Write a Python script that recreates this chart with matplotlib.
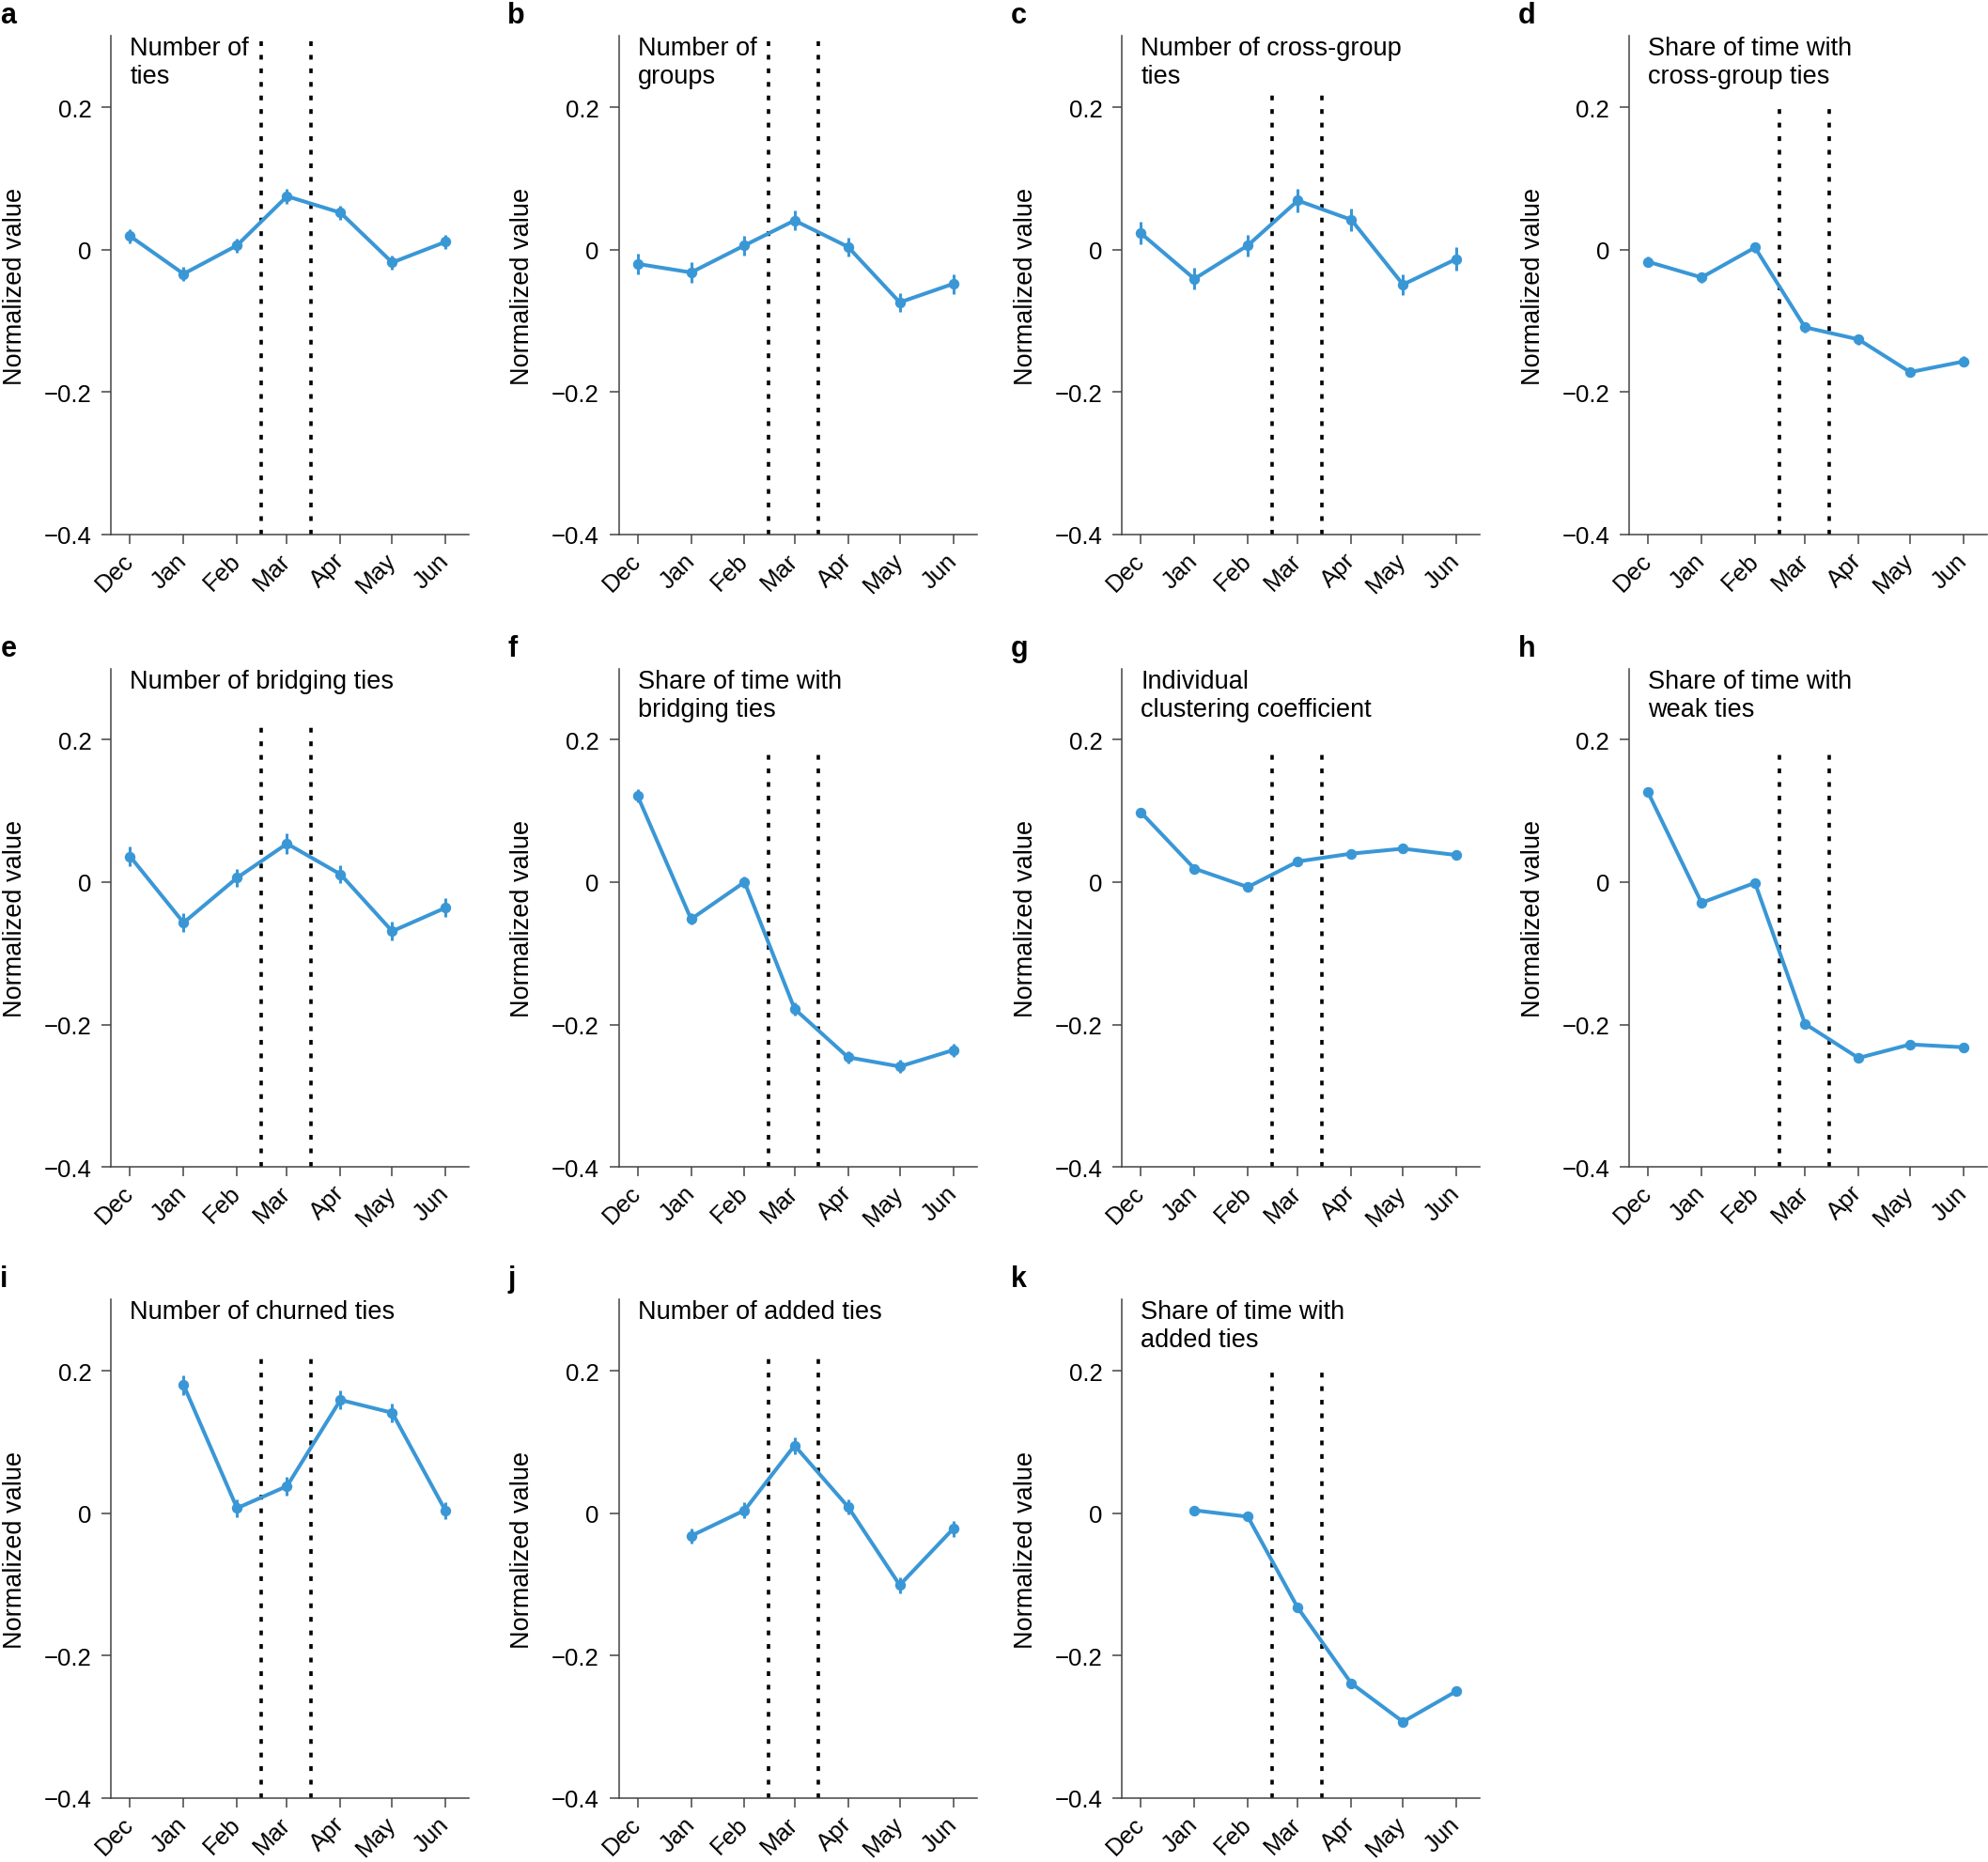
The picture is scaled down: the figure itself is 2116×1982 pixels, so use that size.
import numpy as np
import matplotlib.pyplot as plt
from matplotlib.transforms import ScaledTranslation

plt.rcParams['font.family'] = ['Liberation Sans', 'DejaVu Sans']

BLUE = '#3a97d6'

months = ['Dec', 'Jan', 'Feb', 'Mar', 'Apr', 'May', 'Jun']
month_starts = ['2019-12-01', '2020-01-01', '2020-02-01', '2020-03-01',
                '2020-04-01', '2020-05-01', '2020-06-01']
policy_dates = ['2020-02-15', '2020-03-15']

letters = ['a', 'b', 'c', 'd', 'e', 'f', 'g', 'h', 'i', 'j', 'k']
titles = ['Number of\nties', 'Number of\ngroups', 'Number of cross-group\nties',
          'Share of time with\ncross-group ties', 'Number of bridging ties',
          'Share of time with\nbridging ties', 'Individual\nclustering coefficient',
          'Share of time with\nweak ties', 'Number of churned ties',
          'Number of added ties', 'Share of time with\nadded ties']

# values per panel (nan = no estimate for that month)
n_ties = [0.019, -0.034, 0.006, 0.075, 0.052, -0.018, 0.011]
n_ties_err = [0.010, 0.010, 0.010, 0.011, 0.010, 0.010, 0.010]
n_groups = [-0.020, -0.032, 0.006, 0.041, 0.004, -0.074, -0.048]
n_groups_err = [0.014, 0.014, 0.014, 0.014, 0.013, 0.013, 0.014]
n_cross = [0.023, -0.041, 0.006, 0.069, 0.042, -0.049, -0.013]
n_cross_err = [0.016, 0.015, 0.015, 0.017, 0.016, 0.015, 0.016]
share_cross = [-0.017, -0.039, 0.003, -0.109, -0.126, -0.172, -0.157]
share_cross_err = [0.007, 0.007, 0.007, 0.007, 0.007, 0.007, 0.007]
n_bridging = [0.036, -0.057, 0.006, 0.054, 0.011, -0.069, -0.036]
n_bridging_err = [0.014, 0.013, 0.013, 0.014, 0.013, 0.013, 0.013]
share_bridging = [0.121, -0.052, 0.000, -0.178, -0.246, -0.259, -0.236]
share_bridging_err = [0.009, 0.008, 0.008, 0.009, 0.009, 0.009, 0.009]
clustering = [0.098, 0.019, -0.007, 0.029, 0.040, 0.047, 0.038]
clustering_err = [0.006, 0.005, 0.006, 0.006, 0.006, 0.006, 0.006]
share_weak = [0.126, -0.029, -0.001, -0.199, -0.247, -0.228, -0.232]
share_weak_err = [0.003, 0.003, 0.003, 0.003, 0.003, 0.003, 0.003]
n_churned = [np.nan, 0.180, 0.007, 0.038, 0.159, 0.141, 0.003]
n_churned_err = [np.nan, 0.014, 0.013, 0.013, 0.013, 0.013, 0.012]
n_added = [np.nan, -0.032, 0.004, 0.095, 0.009, -0.101, -0.022]
n_added_err = [np.nan, 0.011, 0.011, 0.012, 0.011, 0.011, 0.011]
share_added = [np.nan, 0.004, -0.005, -0.133, -0.239, -0.293, -0.250]
share_added_err = [np.nan, 0.005, 0.005, 0.005, 0.005, 0.005, 0.005]

series = [n_ties, n_groups, n_cross, share_cross, n_bridging, share_bridging,
          clustering, share_weak, n_churned, n_added, share_added]
errors = [n_ties_err, n_groups_err, n_cross_err, share_cross_err, n_bridging_err,
          share_bridging_err, clustering_err, share_weak_err, n_churned_err,
          n_added_err, share_added_err]
# upper end of the dotted policy lines (kept below the panel titles)
line_tops = [0.3, 0.3, 0.223, 0.205, 0.224, 0.187, 0.187, 0.187, 0.225, 0.225, 0.206]

W, H = 2116, 1983
fig = plt.figure(figsize=(W / 100, H / 100), dpi=100)

col_left = [118.3, 658.5, 1194.2, 1734.0]
row_top = [39.4, 712.6, 1384.3]
ax_h = 530.5
ax_w = 381.0

origin = np.datetime64('2019-12-01')
x = (np.array(month_starts, dtype='datetime64[D]') - origin).astype(int)
policy_x = (np.array(policy_dates, dtype='datetime64[D]') - origin).astype(int)

YMIN, YMAX = -0.4, 0.3

for i in range(len(series)):
    r, c = divmod(i, 4)
    left, top = col_left[c], row_top[r]
    ax = fig.add_axes([left / W, 1 - (top + ax_h) / H, ax_w / W, ax_h / H])

    y = np.array(series[i], dtype=float)
    e = np.array(errors[i], dtype=float)
    m = ~np.isnan(y)

    for d in policy_x:
        ax.axvline(d, ymin=0, ymax=(line_tops[i] - YMIN) / (YMAX - YMIN),
                   color='black', lw=2.6, ls=(0, (1.4, 2.6)), zorder=1)

    ax.errorbar(x[m], y[m], yerr=e[m], color=BLUE, lw=2.9, marker='o', ms=7.2,
                elinewidth=2.2, capsize=0, zorder=3)

    ax.set_xlim(-11, 196.6)
    ax.set_ylim(YMIN, YMAX)
    ax.set_yticks([0.2, 0, -0.2, -0.4])
    ax.set_yticklabels(['0.2', '0', '\u22120.2', '\u22120.4'])
    ax.set_xticks(x)
    ax.set_xticklabels(months, rotation=45, ha='right', va='center',
                       rotation_mode='anchor')
    offset = ScaledTranslation(5.5 / 72, 0, fig.dpi_scale_trans)
    for lab in ax.get_xticklabels():
        lab.set_transform(lab.get_transform() + offset)

    for s in ['top', 'right']:
        ax.spines[s].set_visible(False)
    for s in ['left', 'bottom']:
        ax.spines[s].set_color('#444444')
        ax.spines[s].set_linewidth(1.1)
    ax.tick_params(axis='both', direction='out', length=7, width=1.1,
                   color='#444444', labelsize=18.5)
    ax.tick_params(axis='x', pad=10)
    ax.tick_params(axis='y', pad=8)

    ax.set_ylabel('Normalized value', fontsize=19.5)
    ax.yaxis.set_label_coords(-0.234, 0.5)

    ax.text(x[0], YMAX, titles[i], fontsize=19.5, ha='left', va='top',
            linespacing=1.2)

    fig.text((left - 118) / W, 1 - (top - 14) / H, letters[i], fontsize=22,
             fontweight='bold', ha='left', va='baseline')

fig.savefig('out.png', dpi=100)
